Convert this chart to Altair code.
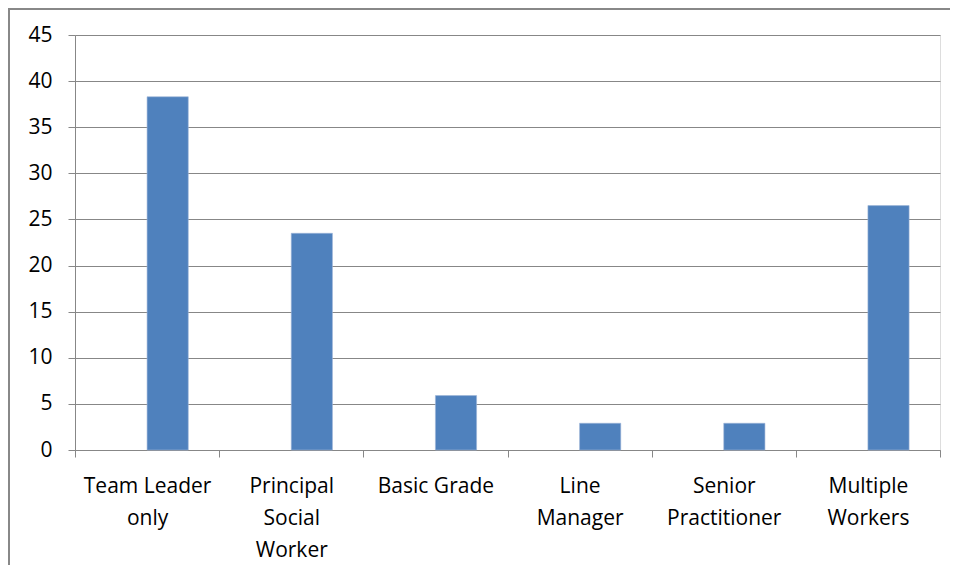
import altair as alt
import pandas as pd

categories = ["Team Leader only", "Principal Social Worker", "Basic Grade",
              "Line Manager", "Senior Practitioner", "Multiple Workers"]
values = [38.3, 23.5, 5.9, 2.9, 2.9, 26.5]
series_names = ["Series1", "Series2"]
label_lines = [["Team Leader", "only"], ["Principal", "Social", "Worker"],
               ["Basic Grade"], ["Line", "Manager"], ["Senior", "Practitioner"],
               ["Multiple", "Workers"]]
y_ticks = [0, 5, 10, 15, 20, 25, 30, 35, 40, 45]

df = pd.DataFrame({"category": categories, "value": values, "series": ["Series2"] * len(categories)})
one = pd.DataFrame({"k": [0]})

expr = "datum.label"
for cat, lines in reversed(list(zip(categories, label_lines))):
    arr = "[" + ",".join("'" + l + "'" for l in lines) + "]"
    expr = f"datum.label == '{cat}' ? {arr} : ({expr})"

FONT = "Open Sans"
GRID = "#878787"

bars = alt.Chart(df).mark_bar(color="#4F81BD", stroke="#9db5d9", strokeWidth=0.6).encode(
    x=alt.X("category:N", sort=categories,
            scale=alt.Scale(domain=categories, paddingInner=0, paddingOuter=0),
            axis=alt.Axis(title=None, labelAngle=0, labelExpr=expr, tickBand="extent",
                          labelFont=FONT, labelFontSize=21, labelColor="#000000",
                          labelLineHeight=32, labelPadding=18, labelBaseline="top",
                          tickSize=7, tickColor=GRID, domainColor=GRID, grid=False)),
    xOffset=alt.XOffset("series:N", scale=alt.Scale(domain=series_names, paddingInner=0, paddingOuter=0.75)),
    y=alt.Y("value:Q", scale=alt.Scale(domain=[0, 45], nice=False),
            axis=alt.Axis(title=None, values=y_ticks, labelFont=FONT, labelFontSize=21,
                          labelColor="#000000", labelPadding=16, tickSize=7, tickColor=GRID,
                          domainColor=GRID, gridColor=GRID, gridOpacity=1, grid=True)),
)

frame_left = alt.Chart(one).mark_rect(color="#888888", strokeWidth=0).encode(
    x=alt.value(-67), x2=alt.value(-65), y=alt.value(-27), y2=alt.value(530)
)
frame_top = alt.Chart(one).mark_rect(color="#888888", strokeWidth=0).encode(
    x=alt.value(-67), x2=alt.value(875), y=alt.value(-27), y2=alt.value(-25)
)

chart = alt.layer(bars, frame_left, frame_top).properties(
    width=865, height=415,
    autosize=alt.AutoSizeParams(type="none"),
    padding={"left": 67, "top": 27, "right": 10, "bottom": 115},
).configure_view(strokeWidth=0).configure(background="white")

chart.save("out.html", embed_options={"renderer": "svg", "actions": False})
